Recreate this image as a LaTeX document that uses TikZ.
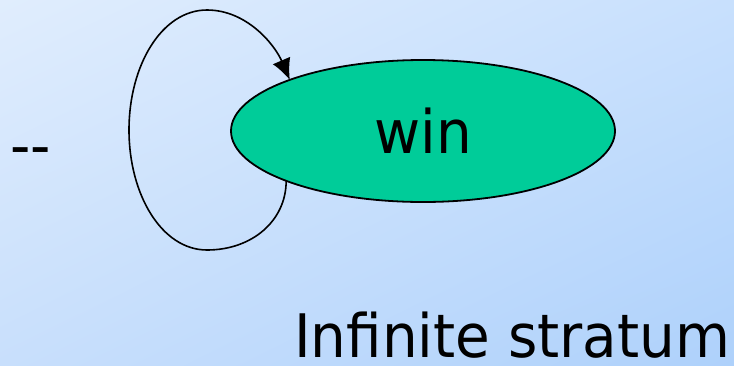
\documentclass[tikz,border=0pt]{standalone}
\usepackage{fontspec}
\setmainfont[FakeStretch=0.94]{DejaVu Sans}
\usetikzlibrary{arrows.meta, shapes.geometric, shadings}

\definecolor{winfill}{HTML}{00CC99}
\definecolor{bgul}{HTML}{E0EDFD}
\definecolor{bgur}{HTML}{C8E0FD}
\definecolor{bgll}{HTML}{C8DFFC}
\definecolor{bglr}{HTML}{AED1FB}

\begin{document}
\begin{tikzpicture}[
        x = 1pt, y = -1pt,
        >= {Latex[length = 21pt, width = 19pt]},
        every stratum/.style = {ellipse, draw = black, line width = 1.8pt, fill = winfill,
          minimum width = 384pt, minimum height = 142pt, inner sep = 0pt, outer sep = 0pt},
        big text/.style = {font = \fontsize{60}{72}\selectfont, inner sep = 0pt},
        loop line/.style = {draw = black, line width = 1.6pt}
    ]
      \shade[upper left = bgul, upper right = bgur, lower left = bgll, lower right = bglr]
        (0,0) rectangle (734,365);
      \useasboundingbox (0,0) rectangle (734,365);

      \node[every stratum, big text] (win) at (423,131) {\raisebox{-4pt}{win}};
      \node[big text, anchor = base west] (dashes) at (10,166) {{-}{-}};
      \node[big text, anchor = base west] (label) at (294,357) {Inf{}inite stratum};

      \coordinate (loop bottom) at (207,250);
      \coordinate (loop left) at (129,130);
      \coordinate (loop top) at (207,10);

      \path[->, loop line]
        (win.200) .. controls +(0,40) and +(45,0) .. (loop bottom)
                  .. controls +(-45,0) and +(0,65) .. (loop left)
                  .. controls +(0,-65) and +(-45,0) .. (loop top)
                  .. controls +(40,0) and +(-15,-35) .. (win.159);
    \end{tikzpicture}
\end{document}
